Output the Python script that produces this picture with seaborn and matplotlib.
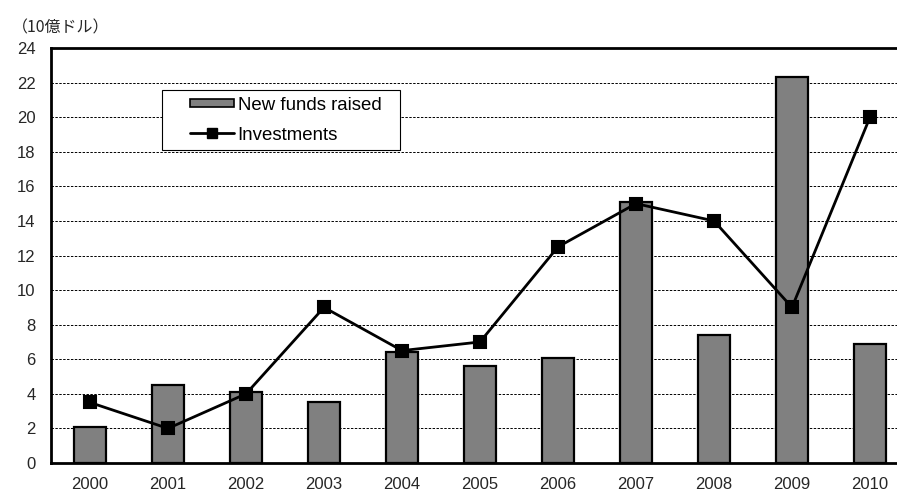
import matplotlib
matplotlib.use("Agg")
import matplotlib.pyplot as plt
from matplotlib.patches import Patch, Rectangle
from matplotlib.lines import Line2D
from matplotlib.legend_handler import HandlerBase
from matplotlib.ticker import MultipleLocator, FixedLocator
import seaborn as sns
import pandas as pd

years = ["2000", "2001", "2002", "2003", "2004", "2005", "2006", "2007", "2008", "2009", "2010"]
new_funds = [2.1, 4.5, 4.1, 3.5, 6.4, 5.6, 6.1, 15.1, 7.4, 22.3, 6.9]
investments = [3.5, 2.0, 4.0, 9.0, 6.5, 7.0, 12.5, 15.0, 14.0, 9.0, 20.0]
unit_label = "（10億ドル）"

sns.set_theme(style="white")
plt.rcParams["font.family"] = ["Liberation Sans", "Noto Sans CJK JP", "DejaVu Sans"]

BAR_COLOR = "#808080"
TEXT_COLOR = "#262626"

df = pd.DataFrame({"year": years, "new_funds": new_funds, "investments": investments})

fig = plt.figure(figsize=(8.97, 5.0), dpi=100)
ax = fig.add_axes([51 / 897, 37 / 500, 858 / 897, 415 / 500])

sns.barplot(data=df, x="year", y="new_funds", color=BAR_COLOR, saturation=1,
            width=0.41, edgecolor="black", linewidth=1.6, ax=ax, zorder=2)
sns.pointplot(data=df, x="year", y="investments", color="black", markers="s",
              linestyles="-", markersize=8.5, linewidth=2.0, ax=ax, zorder=3)

ax.set_xlim(-0.5, 10.5)
ax.set_ylim(0, 24)
ax.yaxis.set_major_locator(MultipleLocator(2))
ax.grid(axis="y", color="black", linestyle=(0, (2.5, 1.5)), linewidth=0.7, zorder=0)
ax.set_axisbelow(True)

ax.set_xlabel("")
ax.set_ylabel("")
ax.tick_params(axis="both", labelsize=12, colors=TEXT_COLOR, length=0)
ax.tick_params(axis="y", pad=11)
ax.tick_params(axis="x", pad=10)
ax.xaxis.set_minor_locator(FixedLocator([i + 0.5 for i in range(10)]))
ax.tick_params(axis="x", which="minor", direction="in", length=5, width=1, color="black")

for side in ["left", "bottom", "top"]:
    ax.spines[side].set_visible(True)
    ax.spines[side].set_color("black")
    ax.spines[side].set_linewidth(2.0)
ax.spines["right"].set_visible(False)

fig.text(12 / 897, 1 - 28 / 500, unit_label, fontsize=11.5,
         family=["Noto Sans CJK JP", "DejaVu Sans"], va="center", ha="left", color=TEXT_COLOR)


class InsetPatchHandler(HandlerBase):
    """Draws the bar swatch in the right part of the handle box."""
    def __init__(self, frac, hfrac):
        super().__init__()
        self.frac = frac
        self.hfrac = hfrac

    def create_artists(self, legend, orig_handle, xdescent, ydescent, width, height,
                       fontsize, trans):
        x0 = -xdescent + width * self.frac
        h = fontsize * self.hfrac
        y0 = -ydescent + (height - h) / 2
        rect = Rectangle((x0, y0), width * (1 - self.frac), h,
                         facecolor=orig_handle.get_facecolor(),
                         edgecolor=orig_handle.get_edgecolor(),
                         linewidth=orig_handle.get_linewidth(), transform=trans)
        return [rect]


class InsetLineHandler(HandlerBase):
    """Draws the line swatch (with centred marker) in the right part of the handle box."""
    def __init__(self, frac):
        super().__init__()
        self.frac = frac

    def create_artists(self, legend, orig_handle, xdescent, ydescent, width, height,
                       fontsize, trans):
        x0 = -xdescent + width * self.frac
        x1 = -xdescent + width
        y = -ydescent + height / 2
        line = Line2D([x0, x1], [y, y], color=orig_handle.get_color(),
                      linewidth=orig_handle.get_linewidth(), transform=trans)
        mk = Line2D([(x0 + x1) / 2], [y], color=orig_handle.get_color(),
                    marker=orig_handle.get_marker(), markersize=orig_handle.get_markersize(),
                    linestyle="none", transform=trans)
        return [line, mk]


bar_handle = Patch(facecolor=BAR_COLOR, edgecolor="black", linewidth=1.2, label="New funds raised")
line_handle = Line2D([0], [0], color="black", marker="s", markersize=6.5, linewidth=2.0,
                     label="Investments")

ax_w, ax_h = 858, 415
box_x0, box_x1, box_top = 162 - 51, 400 - 51, 90 - 48
leg = ax.legend(handles=[bar_handle, line_handle],
                handler_map={bar_handle: InsetPatchHandler(0.33, 0.43),
                             line_handle: InsetLineHandler(0.33)},
                loc="upper left", mode="expand",
                bbox_to_anchor=(box_x0 / ax_w, 1 - box_top / ax_h, (box_x1 - box_x0) / ax_w, 0),
                frameon=True, fancybox=False, framealpha=1, edgecolor="black",
                fontsize=13.4, handlelength=3.52, handleheight=0.7, handletextpad=0.2,
                borderpad=0.35, labelspacing=0.7, borderaxespad=0)
leg.get_frame().set_linewidth(0.8)
for t in leg.get_texts():
    t.set_color("black")

fig.savefig("out.png", dpi=100, facecolor="white")
